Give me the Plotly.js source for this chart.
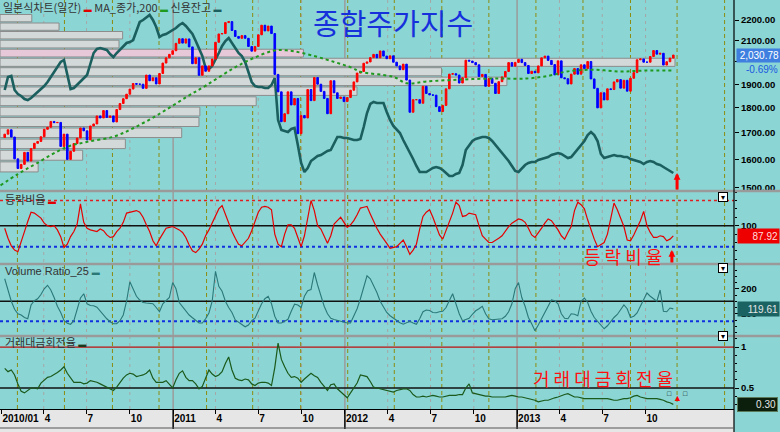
<!DOCTYPE html>
<html><head><meta charset="utf-8">
<script src="https://cdn.plot.ly/plotly-3.0.1.min.js"></script>
<style>html,body{margin:0;padding:0;background:#8bd5d5;}#chart{width:780px;height:432px;}</style>
</head><body><div id="chart"></div>
<script>
// ---------------- DATA (weekly samples) ----------------
const firstWeek = '2010-01-08';
const firstOpen = 1682;
const priceClose = [
1695,1712,1684,1602,1567,1582,1626,1594,1640,1660,1667,1685,1714,1722,1745,1740,1741,1648,1695,1600,1630,1659,1680,1719,1708,1673,1727,1735,1767,1759,1789,1761,1767,1743,1793,1818,1838,1857,1879,1903,1900,1900,1882,1940,1915,1928,1901,1947,1994,2018,2034,2051,
2086,2108,2087,2107,2069,1991,2018,1939,1981,1957,1981,2012,2091,2131,2133,2187,2192,2148,2119,2110,2123,2110,2071,2049,2071,2127,2174,2146,2170,2133,1943,1867,1744,1776,1867,1812,1839,1697,1769,1759,1877,1830,1929,1900,1869,1839,1776,1915,1863,1839,1845,1826,
1843,1874,1910,1949,1956,1993,1999,2019,2034,2018,2050,2026,2014,2027,1998,1981,1964,1989,1918,1782,1834,1834,1819,1891,1860,1854,1853,1805,1785,1810,1880,1944,1946,1940,1905,1928,2007,2003,1996,1986,1934,1943,1891,1925,1904,1860,1911,1932,1956,1996,1980,1997,
2011,1996,1983,1947,1957,1950,1981,2018,2026,2006,1987,1941,2004,1928,1924,1901,1944,1969,1944,1986,1969,2001,1923,1882,1800,1863,1833,1880,1877,1910,1920,1883,1917,1870,1926,1951,2009,2013,1998,1998,2024,2052,2035,2039,1985,2000,2017,2030.78];
const creditBal = [ // 신용잔고 (hidden scale, 10억원 x10)
498,524,526,498,490,486,480,478,482,488,496,500,506,514,524,532,544,554,558,528,500,502,508,516,520,528,550,572,580,582,580,578,570,564,572,578,584,592,594,598,616,634,638,644,648,638,624,604,608,610,614,618,
622,628,632,626,618,610,596,582,566,542,540,546,558,572,586,596,602,592,584,572,566,554,534,514,506,504,504,502,502,508,522,438,418,416,414,420,422,388,352,334,342,356,362,366,368,372,376,378,392,404,404,402,
402,400,398,398,400,424,452,470,474,472,472,472,454,438,426,418,412,398,386,372,360,346,334,334,334,338,342,344,342,338,332,326,326,330,332,348,378,388,396,400,402,404,404,402,396,388,382,374,366,356,346,336,
334,342,348,352,354,354,358,360,362,364,368,370,372,370,366,362,364,372,380,386,396,408,414,408,396,370,362,364,366,368,366,366,364,364,360,358,356,354,350,354,356,354,350,348,344,340,336,332];
const adr = [
97,85,76,71,69,80,93,105,116,115,112,109,103,100,99,100,95,87,74,78,87,93,102,126,104,97,95,94,93,96,94,89,86,87,93,97,104,115,116,117,118,116,110,101,93,82,76,84,91,97,98,99,
97,95,92,86,77,70,68,72,78,88,95,104,113,120,124,113,103,93,85,78,76,80,85,94,105,116,122,123,122,119,90,78,75,90,101,101,97,87,75,88,110,130,118,100,96,88,79,88,102,106,110,104,
98,101,106,113,121,122,123,114,105,97,90,85,79,73,74,75,79,83,75,66,71,78,96,111,116,119,110,100,89,84,94,103,115,128,124,111,112,115,114,113,100,88,84,80,80,82,85,88,94,99,103,106,
108,107,104,97,89,86,91,97,103,108,106,101,95,88,84,92,99,118,128,125,120,107,95,84,75,77,80,90,108,127,119,109,99,83,82,89,97,106,117,100,92,86,86,88,87,82,84,87.92];
const volRatio = [
240,190,150,118,100,95,85,80,135,152,160,177,200,214,195,165,130,105,73,62,58,72,120,163,180,140,133,132,126,110,95,80,68,60,60,72,95,150,228,195,170,155,145,143,143,140,125,108,140,152,165,225,
200,145,128,110,95,84,72,63,63,80,103,150,270,210,190,150,125,105,75,66,60,48,55,72,82,110,140,160,170,140,90,63,63,70,78,110,138,135,125,170,192,197,265,215,170,130,100,82,77,73,70,66,
63,63,90,120,160,210,252,240,215,185,150,125,105,92,82,72,64,58,63,70,63,58,80,108,115,113,105,104,108,110,125,150,180,140,100,72,76,82,98,112,120,130,100,80,76,77,78,80,90,108,140,200,
225,165,130,85,60,32,55,80,110,135,155,152,140,100,82,80,100,98,92,150,163,145,110,85,70,55,40,52,70,85,97,115,135,120,85,90,103,130,160,183,170,160,150,195,110,108,123,119.61];
const turnover = [
0.74,0.70,0.72,0.66,0.55,0.46,0.44,0.47,0.50,0.50,0.49,0.56,0.60,0.63,0.64,0.66,0.69,0.72,0.76,0.68,0.62,0.57,0.57,0.57,0.55,0.56,0.59,0.58,0.57,0.55,0.53,0.52,0.50,0.47,0.51,0.57,0.62,0.66,0.68,0.67,0.64,0.65,0.66,0.68,0.72,0.62,0.57,0.57,0.57,0.59,0.55,0.50,
0.60,0.68,0.71,0.63,0.59,0.59,0.55,0.49,0.52,0.62,0.72,0.67,0.64,0.66,0.70,0.80,0.88,0.72,0.62,0.60,0.59,0.61,0.60,0.55,0.53,0.56,0.57,0.57,0.56,0.53,0.75,1.05,0.85,0.76,0.68,0.63,0.64,0.62,0.57,0.61,0.65,0.68,0.65,0.63,0.57,0.52,0.47,0.54,0.55,0.49,0.45,0.42,
0.38,0.44,0.50,0.56,0.66,0.65,0.64,0.58,0.51,0.50,0.49,0.48,0.47,0.46,0.45,0.47,0.48,0.49,0.49,0.47,0.42,0.39,0.39,0.40,0.39,0.40,0.41,0.40,0.39,0.39,0.40,0.41,0.41,0.41,0.42,0.42,0.50,0.55,0.44,0.43,0.42,0.41,0.40,0.40,0.39,0.39,0.39,0.39,0.39,0.40,0.41,0.40,
0.39,0.39,0.38,0.37,0.36,0.35,0.33,0.34,0.35,0.35,0.37,0.38,0.39,0.41,0.42,0.43,0.41,0.39,0.39,0.38,0.37,0.37,0.37,0.37,0.37,0.37,0.37,0.37,0.36,0.35,0.35,0.36,0.37,0.37,0.38,0.40,0.41,0.39,0.38,0.37,0.37,0.37,0.37,0.36,0.35,0.33,0.32,0.30];
const maDates = ['2009-12-30','2010-02-03','2010-03-17','2010-05-20','2010-07-01','2010-08-27','2010-10-08','2010-12-04','2011-01-30','2011-03-13','2011-05-09','2011-06-20','2011-08-02','2011-08-30','2011-10-05','2011-12-08','2012-01-19','2012-02-02','2012-04-13','2012-05-12','2012-06-23','2012-09-02','2012-11-12','2013-01-22','2013-03-12','2013-04-17','2013-06-12','2013-08-08','2013-09-27','2013-11-29'];
const ma200 = [1508,1545,1586,1646,1665,1685,1718,1777,1846,1896,1970,2016,2051,2053,2039,2000,1970,1955,1932,1904,1912,1920,1925,1925,1938,1956,1964,1956,1960,1960];
// 매물대 (price-volume profile), 16 equal price bands, volume in 억주
const bandLow  = [1552,1594,1637,1679,1722,1764,1806,1849,1891,1934,1976,2019,2061,2104,2146,2188];
const bandHigh = [1594,1637,1679,1722,1764,1806,1849,1891,1934,1976,2019,2061,2104,2146,2188,2231];
const bandVol  = [42,91,138,200,219,220,282,393,558,486,743,334,131,135,65,35];
const lastPrice = 2030.78, lastChangePct = -0.69;
const cycleDates = ['2010-02-04','2010-05-15','2010-08-25','2010-12-02','2011-03-13','2011-06-19','2011-09-29','2012-01-07','2012-04-15','2012-07-25','2012-11-02','2013-02-10','2013-05-21','2013-08-30','2013-12-07','2014-03-18'];
const quarterTicks = ['2010-01-01','2010-04-01','2010-07-01','2010-10-01','2011-01-01','2011-04-01','2011-07-01','2011-10-01','2012-01-01','2012-04-01','2012-07-01','2012-10-01','2013-01-01','2013-04-01','2013-07-01','2013-10-01'];
const quarterLabels = ['2010/01','4','7','10','2011','4','7','10','2012','4','7','10','2013','4','7','10'];
const priceTicks = [1500,1600,1700,1800,1900,2000,2100,2200];

// ---------------- LAYOUT HELPERS ----------------
const xStart = '2009-12-29', xEnd = '2014-04-07';
const priceMin = 1492, priceMax = 2303;
const plotH = 409;
const py = px => 1 - px / plotH;
const weekDates = priceClose.map((_, i) => new Date(Date.UTC(2010,0,8) + i*7*86400000).toISOString().slice(0,10));
const openArr = priceClose.map((c, i) => i === 0 ? firstOpen : priceClose[i-1]);
const highArr = priceClose.map((c, i) => Math.max(c, openArr[i]));
const lowArr = priceClose.map((c, i) => Math.min(c, openArr[i]));
const rangeMs = Date.parse(xEnd) - Date.parse(xStart);
const maxVol = Math.max(...bandVol);
const longestFrac = 0.9196;
const curBand = bandLow.findIndex((l, i) => lastPrice >= l && lastPrice < bandHigh[i]);

const font = 'Liberation Sans, Arial, Noto Sans CJK KR, sans-serif';
const kfont = 'Noto Sans CJK KR, sans-serif';

const traces = [
  { type:'bar', orientation:'h', xaxis:'x', yaxis:'y',
    y: bandLow.map((l,i) => (Math.log10(l) + Math.log10(bandHigh[i]))/2),
    width: bandLow.map((l,i) => (Math.log10(bandHigh[i]) - Math.log10(l))*0.86),
    base: bandLow.map(() => xStart),
    x: bandVol.map(v => v / maxVol * longestFrac * rangeMs),
    marker: { color: bandLow.map((l,i) => i === curBand ? '#e6c8d8' : '#d3d8d8'), line: {color:'#8c8c8c', width:1} } },
  { type:'scatter', mode:'lines', xaxis:'x', yaxis:'y5', x: weekDates, y: creditBal,
    line: {color:'#1b5f5f', width:2.6} },
  { type:'scatter', mode:'lines', xaxis:'x', yaxis:'y6', x: maDates, y: ma200,
    line: {color:'#1e9a1e', width:2, dash:'dot', shape:'spline'} },
  { type:'candlestick', xaxis:'x', yaxis:'y6', x: weekDates, open: openArr, high: highArr, low: lowArr, close: priceClose,
    increasing: {line:{color:'#ff0000', width:1}, fillcolor:'#ff0000'},
    decreasing: {line:{color:'#0000ff', width:1}, fillcolor:'#0000ff'}, whiskerwidth:0 },
  { type:'scatter', mode:'lines', xaxis:'x', yaxis:'y2', x: weekDates, y: adr, line:{color:'#e60000', width:1.2} },
  { type:'scatter', mode:'lines', xaxis:'x', yaxis:'y3', x: weekDates, y: volRatio, line:{color:'#2b7878', width:1.1} },
  { type:'scatter', mode:'lines', xaxis:'x', yaxis:'y4', x: weekDates, y: turnover, line:{color:'#1b5a1b', width:1.2} }
];

const shapes = [];
shapes.push({type:'rect', xref:'paper', yref:'paper', x0:0, x1:1, y0:-23/plotH, y1:0, fillcolor:'#e6e6e6', line:{width:0}, layer:'below'});
quarterTicks.forEach(d => {
  const isYear = d.endsWith('-01-01');
  if (d === quarterTicks[0]) return;
  shapes.push({type:'line', xref:'x', yref:'paper', x0:d, x1:d, y0:0, y1:1, layer:'below',
    line: isYear ? {color:'#9c9c9c', width:1.5} : {color:'#a6a6a6', width:1, dash:'3px,4px'}});
  if (isYear) shapes.push({type:'line', xref:'x', yref:'paper', x0:d, x1:d, y0:-20/plotH, y1:0, line:{color:'#000', width:1.5}});
});
cycleDates.forEach(d => shapes.push({type:'line', xref:'x', yref:'paper', x0:d, x1:d, y0:0, y1:1, layer:'below',
  line:{color:'#8c8c10', width:1, dash:'4px,3px'}}));
const hl = (yref, v, color, dash, w) => shapes.push({type:'line', xref:'paper', yref, x0:0, x1:1, y0:v, y1:v, layer:'below', line:{color, width:w||1.5, dash}});
hl('y2', 130, '#e02020', '3px,3px', 1.5);
hl('y2', 100, '#111', 'solid', 1.6);
hl('y2', 75, '#1030e0', '3px,3px', 2);
hl('y3', 150, '#111', 'solid', 1.3);
hl('y3', 70, '#1030e0', '3px,3px', 2);
hl('y4', 1, '#c01010', 'solid', 1.3);
hl('y4', 0.5, '#111', 'solid', 1.3);
[191, 264, 336].forEach(p => shapes.push({type:'line', xref:'paper', yref:'paper', x0:0, x1:780/734, y0:py(p), y1:py(p), line:{color:'#9a9a9a', width:2.5}}));
shapes.push({type:'line', xref:'paper', yref:'paper', x0:1, x1:1, y0:-23/plotH, y1:1, line:{color:'#000', width:1.2}});
shapes.push({type:'line', xref:'paper', yref:'paper', x0:0, x1:1, y0:-19/plotH, y1:-19/plotH, line:{color:'#555', width:1}});

const annotations = [
  {xref:'paper', yref:'paper', x:0.002, y:py(7), xanchor:'left', yanchor:'middle', showarrow:false,
   font:{family:kfont, size:11, color:'#333'},
   text:'일본식차트(일간) <span style="color:#e00000;font-size:8px">▬</span> MA_종가,200 <span style="color:#1e9a1e;font-size:8px">▬</span> 신용잔고 <span style="color:#1b5f5f;font-size:8px">▬</span>'},
  {xref:'paper', yref:'paper', x:393/734, y:py(22), xanchor:'center', yanchor:'middle', showarrow:false,
   font:{family:kfont, size:29, color:'#1630dc'}, text:'종합주가지수'},
  {xref:'paper', yref:'paper', x:0.004, y:py(199), xanchor:'left', yanchor:'middle', showarrow:false,
   font:{family:kfont, size:11, color:'#333'}, text:'등락비율 <span style="color:#e00000;font-size:8px">▬</span>'},
  {xref:'paper', yref:'paper', x:0.004, y:py(271), xanchor:'left', yanchor:'middle', showarrow:false,
   font:{family:font, size:11, color:'#333'}, text:'Volume Ratio_25 <span style="color:#2b7878;font-size:8px">▬</span>'},
  {xref:'paper', yref:'paper', x:0.004, y:py(342), xanchor:'left', yanchor:'middle', showarrow:false,
   font:{family:kfont, size:11, color:'#333'}, text:'거래대금회전율 <span style="color:#1b3a1b;font-size:8px">▬</span>'},
  {xref:'paper', yref:'paper', x:623/734, y:py(256), xanchor:'center', yanchor:'middle', showarrow:false,
   font:{family:kfont, size:18, color:'#ff1010'}, text:'등 락 비 율'},
  {xref:'paper', yref:'paper', x:603/734, y:py(378), xanchor:'center', yanchor:'middle', showarrow:false,
   font:{family:kfont, size:18, color:'#ff1010'}, text:'거 래 대 금 회 전 율'},
  {xref:'x', yref:'paper', x:'2013-12-07', y:py(173), ax:0, ay:18, showarrow:true, arrowhead:2, arrowsize:0.45, arrowwidth:3, arrowcolor:'#ff0000', text:''},
  {xref:'x', yref:'paper', x:'2013-11-26', y:py(250), ax:0, ay:14, showarrow:true, arrowhead:2, arrowsize:0.45, arrowwidth:3, arrowcolor:'#ff0000', text:''},
  {xref:'x', yref:'paper', x:'2013-12-07', y:py(405), showarrow:false, font:{size:9, color:'#ff0000'}, text:'▲'},
  {xref:'x', yref:'paper', x:'2013-11-20', y:py(399), showarrow:false, font:{size:7, color:'#000'}, text:'□'},
  {xref:'x', yref:'paper', x:'2013-12-24', y:py(399), showarrow:false, font:{size:7, color:'#000'}, text:'□'},
  {xref:'paper', yref:'y6', x:736/734, y:Math.log10(lastPrice), xanchor:'left', yanchor:'middle', showarrow:false,
   bgcolor:'#3f7fe0', width:41, height:11, align:'right', font:{family:font, size:10, color:'#ffffff'},
   text: lastPrice.toLocaleString('en-US',{minimumFractionDigits:2, maximumFractionDigits:2})},
  {xref:'paper', yref:'y6', x:744/734, y:Math.log10(lastPrice), yshift:-14, xanchor:'left', yanchor:'middle', showarrow:false,
   font:{family:font, size:10, color:'#1a5ae0'}, text: lastChangePct.toFixed(2) + '%'},
  {xref:'paper', yref:'y2', x:737/734, y:adr[adr.length-1], xanchor:'left', yanchor:'middle', showarrow:false,
   bgcolor:'#ee0000', width:39, height:12, align:'right', font:{family:font, size:10, color:'#ffdddd'}, text: adr[adr.length-1].toFixed(2)},
  {xref:'paper', yref:'y3', x:737/734, y:volRatio[volRatio.length-1], xanchor:'left', yanchor:'middle', showarrow:false,
   bgcolor:'#1b6262', width:39, height:12, align:'right', font:{family:font, size:10, color:'#e6e6e6'}, text: volRatio[volRatio.length-1].toFixed(2)},
  {xref:'paper', yref:'y4', x:737/734, y:turnover[turnover.length-1], xanchor:'left', yanchor:'middle', showarrow:false,
   bgcolor:'#0c1e0c', bordercolor:'#5a7a5a', borderwidth:1, width:37, height:11, align:'right', font:{family:font, size:10, color:'#e6e6e6'}, text: turnover[turnover.length-1].toFixed(2)}
];
[197, 268, 341].forEach(p => annotations.push({xref:'paper', yref:'paper', x:728/734, y:py(p), showarrow:false,
  bgcolor:'#ffffff', bordercolor:'#000', borderwidth:1, borderpad:0, width:8, height:8, font:{size:8, color:'#000'}, text:'▾'}));

const yTick = {ticks:'outside', ticklen:4, tickcolor:'#000', showgrid:false, zeroline:false, side:'right', anchor:'x',
  tickfont:{family:font, size:9.5, color:'#000', weight:'bold'}, fixedrange:true};

const layout = {
  width:780, height:432, margin:{l:0, r:46, t:0, b:23, pad:0},
  paper_bgcolor:'#8bd5d5', plot_bgcolor:'#8bd5d5', showlegend:false, hovermode:false, dragmode:false,
  font:{family:font, size:11, color:'#000'},
  xaxis:{type:'date', range:[xStart, xEnd], anchor:'y4', domain:[0,1], showgrid:false, zeroline:false,
    tickmode:'array', tickvals:quarterTicks, ticktext:quarterLabels, ticks:'outside', ticklen:4, tickcolor:'#000',
    ticklabelposition:'outside right', tickfont:{family:font, size:10, color:'#000', weight:'bold'},
    showline:true, linecolor:'#000', linewidth:1, rangeslider:{visible:false}, fixedrange:true},
  yaxis:{domain:[py(190),1], range:[Math.log10(priceMin), Math.log10(priceMax)], visible:false, anchor:'x', fixedrange:true},
  yaxis5:{overlaying:'y', range:[298,678], visible:false, anchor:'x', fixedrange:true},
  yaxis6:Object.assign({}, yTick, {overlaying:'y', type:'log', range:[Math.log10(priceMin), Math.log10(priceMax)],
    tickmode:'array', tickvals:priceTicks, ticktext:priceTicks.map(v => v === 2000 ? '' : v.toFixed(2))}),
  yaxis2:Object.assign({}, yTick, {domain:[py(263), py(192)], range:[55.6,140.1], tickmode:'array', tickvals:[100], ticktext:['100'],
    minor:{ticks:'outside', ticklen:2, tickcolor:'#000', dtick:10, showgrid:false}}),
  yaxis3:Object.assign({}, yTick, {domain:[py(335), py(265)], range:[15,295], tickmode:'array', tickvals:[100,200], ticktext:['100','200'],
    minor:{ticks:'outside', ticklen:2, tickcolor:'#000', dtick:25, showgrid:false}}),
  yaxis4:Object.assign({}, yTick, {domain:[0, py(337)], range:[0.243,1.124], tickmode:'array', tickvals:[0.5,1], ticktext:['0.5','1'],
    minor:{ticks:'outside', ticklen:2, tickcolor:'#000', dtick:0.1, showgrid:false}}),
  shapes, annotations
};

Plotly.newPlot('chart', traces, layout, {staticPlot:true, displayModeBar:false});
</script>
</body></html>
